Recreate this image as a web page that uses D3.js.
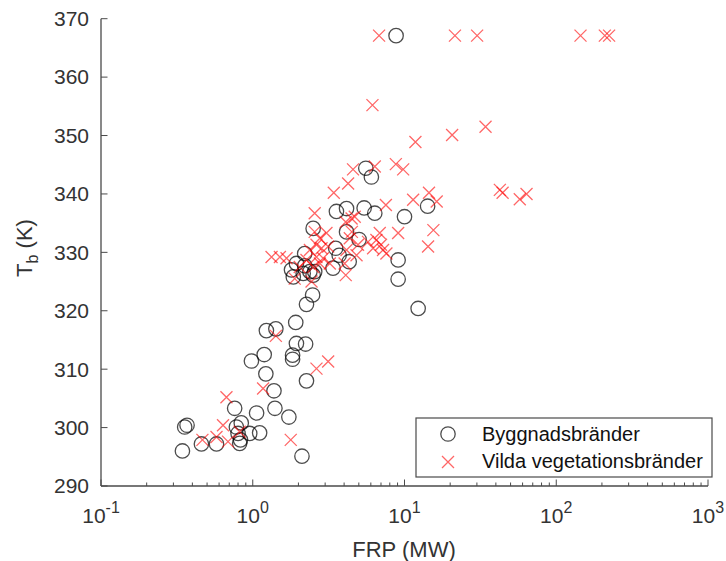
<!DOCTYPE html>
<html>
<head>
<meta charset="utf-8">
<script src="https://cdn.jsdelivr.net/npm/d3@7/dist/d3.min.js"></script>
<style>
  html, body { margin: 0; padding: 0; background: #fff; }
  svg { display: block; font-family: "Liberation Sans", Arial, sans-serif; }
</style>
</head>
<body>
<svg id="chart" width="726" height="561"></svg>
<script>
// Building fires: [FRP (MW), brightness temperature (K)]
const byggnad = [
  [8.8, 367.1], [5.56, 344.4], [6.05, 342.9], [3.56, 337.0], [4.15, 337.5],
  [5.42, 337.6], [6.37, 336.7], [10.0, 336.1], [14.2, 337.9], [2.50, 334.1],
  [4.15, 333.5], [2.20, 329.8], [3.52, 330.7], [3.71, 329.5], [4.32, 328.4],
  [5.02, 332.2], [3.38, 327.3], [1.94, 328.1], [1.85, 325.8], [2.20, 327.7],
  [2.38, 326.7], [2.50, 326.1], [2.15, 326.4], [1.80, 327.0], [2.56, 326.7],
  [9.08, 328.7], [9.08, 325.4], [12.3, 320.4], [2.48, 322.7], [2.26, 321.1],
  [1.92, 318.0], [1.23, 316.6], [1.42, 316.9], [1.94, 314.4], [2.23, 314.3],
  [0.98, 311.4], [1.19, 312.5], [1.83, 312.4], [1.83, 311.7], [1.22, 309.2],
  [2.26, 308.0], [1.38, 306.3], [1.40, 303.3], [0.76, 303.3], [1.06, 302.5],
  [1.73, 301.8], [0.356, 300.1], [0.369, 300.4], [0.78, 300.1], [0.84, 300.8],
  [1.11, 299.1], [0.955, 299.0], [0.82, 297.3], [0.83, 297.9], [0.80, 299.0],
  [0.459, 297.2], [0.577, 297.2], [0.344, 296.0], [2.11, 295.1]
];

// Wildland vegetation fires: [FRP (MW), brightness temperature (K)]
const vegetation = [
  [6.8, 367.1], [21.5, 367.1], [30.1, 367.1], [144.5, 367.1], [209, 367.1], [223, 367.1],
  [6.15, 355.2], [11.8, 348.9], [20.6, 350.1], [34.2, 351.5],
  [4.58, 344.2], [6.37, 344.7], [8.77, 345.1], [9.8, 344.2],
  [3.42, 340.2], [4.25, 341.8], [7.54, 338.1], [11.4, 339.0], [14.5, 340.2], [16.3, 338.7],
  [42.5, 340.7], [44.3, 340.2], [57.5, 339.1], [63.7, 340.0],
  [2.56, 336.7], [4.48, 335.8], [4.70, 336.1], [4.10, 335.2], [15.5, 333.8], [14.3, 331.0],
  [9.08, 333.3], [6.87, 333.3], [6.53, 332.1], [5.75, 331.8], [6.21, 330.7], [7.22, 330.4],
  [7.60, 329.8], [7.0, 331.3], [4.94, 331.3], [4.36, 332.4], [4.5, 333.5],
  [2.56, 333.5], [3.06, 333.3], [2.77, 332.4], [2.63, 331.3], [2.84, 330.7], [3.14, 331.0],
  [1.33, 329.2], [1.51, 329.2], [1.67, 329.0], [2.38, 330.4], [2.91, 329.0], [2.63, 329.2],
  [3.22, 328.1], [2.77, 328.1], [2.50, 327.5], [2.26, 328.7], [2.04, 327.5], [1.89, 325.5],
  [2.44, 325.0], [4.10, 326.1], [4.03, 328.1], [4.83, 329.5], [4.15, 330.4],
  [1.42, 315.7], [2.63, 310.1], [3.14, 311.3], [1.17, 306.7], [0.671, 305.2],
  [0.637, 300.4], [0.466, 297.9], [0.577, 298.4], [0.687, 297.6], [0.82, 299.3], [1.78, 297.9]
];

const xTickExps = [-1, 0, 1, 2, 3];
const yTicks = [290, 300, 310, 320, 330, 340, 350, 360, 370];
const seriesNames = ["Byggnadsbränder", "Vilda vegetationsbränder"];

const svg = d3.select("#chart");
const plotLeft = 101, plotRight = 708, plotTop = 18.7, plotBottom = 486;
const axisColor = "#4a4a4a", textColor = "#333";

const x = d3.scaleLog().domain([0.1, 1000]).range([plotLeft, plotRight]);
const y = d3.scaleLinear().domain([290, 370]).range([plotBottom, plotTop]);

// minor ticks on the log axis
const minorVals = [];
for (let e = -1; e < 3; e++) for (let m = 2; m <= 9; m++) minorVals.push(m * Math.pow(10, e));

const axes = svg.append("g");
axes.append("line").attr("x1", plotLeft).attr("x2", plotRight).attr("y1", plotBottom).attr("y2", plotBottom)
  .attr("stroke", axisColor).attr("stroke-width", 1.3);
axes.append("line").attr("x1", plotLeft).attr("x2", plotLeft).attr("y1", plotBottom).attr("y2", plotTop)
  .attr("stroke", axisColor).attr("stroke-width", 1.3);

axes.selectAll(".xminor").data(minorVals).join("line")
  .attr("x1", d => x(d)).attr("x2", d => x(d))
  .attr("y1", plotBottom).attr("y2", plotBottom - 3.5)
  .attr("stroke", axisColor).attr("stroke-width", 1);
axes.selectAll(".xmajor").data(xTickExps).join("line")
  .attr("x1", d => x(Math.pow(10, d))).attr("x2", d => x(Math.pow(10, d)))
  .attr("y1", plotBottom).attr("y2", plotBottom - 6.5)
  .attr("stroke", axisColor).attr("stroke-width", 1);
axes.selectAll(".ymajor").data(yTicks).join("line")
  .attr("x1", plotLeft).attr("x2", plotLeft + 6.5)
  .attr("y1", d => y(d)).attr("y2", d => y(d))
  .attr("stroke", axisColor).attr("stroke-width", 1);

// x tick labels as 10^n
const xl = axes.selectAll(".xlab").data(xTickExps).join("text")
  .attr("x", d => x(Math.pow(10, d)))
  .attr("y", 523)
  .attr("text-anchor", "middle")
  .attr("fill", textColor)
  .attr("font-size", 21);
xl.append("tspan").text("10");
xl.append("tspan").attr("dy", -10).attr("font-size", 16).text(d => d < 0 ? "-" + Math.abs(d) : String(d));

axes.selectAll(".ylab").data(yTicks).join("text")
  .attr("x", 89).attr("y", d => y(d))
  .attr("dy", "0.35em")
  .attr("text-anchor", "end")
  .attr("fill", textColor)
  .attr("font-size", 21)
  .text(d => d);

// axis titles
svg.append("text")
  .attr("x", 404).attr("y", 557)
  .attr("text-anchor", "middle").attr("fill", textColor).attr("font-size", 22)
  .text("FRP (MW)");

const yt = svg.append("text")
  .attr("transform", "translate(32,248) rotate(-90)")
  .attr("text-anchor", "middle").attr("fill", textColor).attr("font-size", 22);
yt.append("tspan").text("T");
yt.append("tspan").attr("dy", 6).attr("font-size", 16).text("b");
yt.append("tspan").attr("dy", -6).text(" (K)");

// markers
const plot = svg.append("g");
const crossSize = 6;
function crossPath(cx, cy, s) {
  return `M${cx - s},${cy - s}L${cx + s},${cy + s}M${cx - s},${cy + s}L${cx + s},${cy - s}`;
}

plot.selectAll(".bygg").data(byggnad).join("circle")
  .attr("cx", d => x(d[0])).attr("cy", d => y(d[1])).attr("r", 7.2)
  .attr("fill", "none").attr("stroke", "#000").attr("stroke-opacity", 0.7).attr("stroke-width", 1.3);

plot.selectAll(".veg").data(vegetation).join("path")
  .attr("d", d => crossPath(x(d[0]), y(d[1]), crossSize))
  .attr("fill", "none").attr("stroke", "#ff0000").attr("stroke-opacity", 0.6).attr("stroke-width", 1.3);

// legend
const lg = svg.append("g");
lg.append("rect").attr("x", 416).attr("y", 418).attr("width", 296).attr("height", 59)
  .attr("fill", "#fff").attr("stroke", axisColor).attr("stroke-width", 1.2);
lg.append("circle").attr("cx", 448).attr("cy", 434).attr("r", 7.2)
  .attr("fill", "none").attr("stroke", "#000").attr("stroke-opacity", 0.7).attr("stroke-width", 1.3);
lg.append("path").attr("d", crossPath(448, 462, crossSize))
  .attr("fill", "none").attr("stroke", "#ff0000").attr("stroke-opacity", 0.6).attr("stroke-width", 1.3);
lg.selectAll(".lt").data(seriesNames).join("text")
  .attr("x", 482).attr("y", (d, i) => 441 + i * 27)
  .attr("fill", "#111").attr("font-size", 20)
  .text(d => d);
</script>
</body>
</html>
